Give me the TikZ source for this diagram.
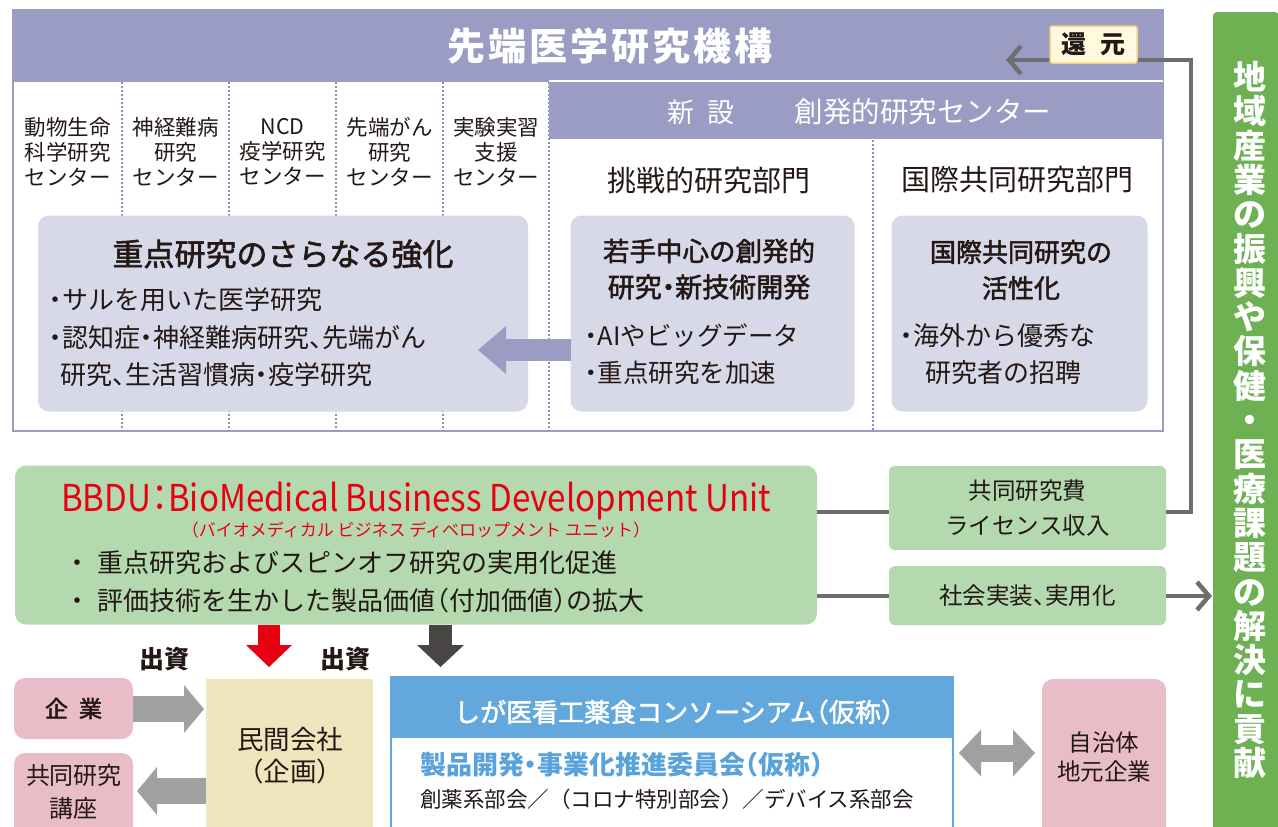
\documentclass[tikz,border=0pt]{standalone}
\usepackage{graphicx}
\usepackage{fontspec}
\setmainfont{Noto Sans CJK JP}
\newfontfamily\medfont{Noto Sans CJK JP}[FakeBold=2]
\usetikzlibrary{arrows.meta,calc}
\definecolor{lav}{HTML}{9A9CC4}
\definecolor{lavlight}{HTML}{D8D9E8}
\definecolor{dotc}{HTML}{8C8EBE}
\definecolor{gbox}{HTML}{B4D9AE}
\definecolor{gbar}{HTML}{6DB153}
\definecolor{conng}{HTML}{6E6E6E}
\definecolor{redc}{HTML}{E60012}
\definecolor{darkar}{HTML}{4A4545}
\definecolor{grayar}{HTML}{9FA09F}
\definecolor{pinkc}{HTML}{E8BDC8}
\definecolor{yelc}{HTML}{EEE6BC}
\definecolor{bluec}{HTML}{63A8DC}
\definecolor{bluetxt}{HTML}{5AA3DA}
\definecolor{txt}{HTML}{231815}
\definecolor{kanfill}{HTML}{FFF9DD}
\definecolor{kanbord}{HTML}{F2D38A}
\newcommand\fsz[2]{\fontsize{#1}{#2}\selectfont}
% narrow (proportional) punctuation
\newcommand\nd{\makebox[0.5em]{・}}
\newcommand\tn{\makebox[0.5em][l]{、}}
\newcommand\lpar{\makebox[0.5em][r]{（}}
\newcommand\rpar{\makebox[0.5em][l]{）}}
\begin{document}
\begin{tikzpicture}[x=1pt,y=-1pt,
  box/.style={rectangle,inner sep=0pt,outer sep=0pt},
  rbox/.style={box,rounded corners=11pt},
  sbox/.style={box,rounded corners=6pt},
  tx/.style={inner sep=0pt,outer sep=0pt,text=txt},
  dotl/.style={draw=dotc,line width=1.5pt,dash pattern=on 1.5pt off 2.5pt},
  conn/.style={draw=conng,line width=4.5pt},
  barb/.style={-{Straight Barb[length=12pt,width=28pt]}},
  lavarr/.style={draw=lav,line width=22pt,-{Triangle[length=28pt,width=48pt,line width=0pt]}},
  redarr/.style={draw=redc,line width=22pt,-{Triangle[length=22pt,width=46pt,line width=0pt]}},
  dkarr/.style={draw=darkar,line width=23pt,-{Triangle[length=22pt,width=47pt,line width=0pt]}},
  grayarr/.style={draw=grayar,line width=26pt,-{Triangle[length=20pt,width=48pt,line width=0pt]}},
  dblarr/.style={draw=grayar,line width=17pt,{Triangle[length=22pt,width=47pt,line width=0pt]}-{Triangle[length=22pt,width=47pt,line width=0pt]}}
]
\useasboundingbox (0,0) rectangle (1278,827);
\clip (0,0) rectangle (1278,827);

% ---------- organisation box ----------
\node[box,draw=lav,line width=2pt,minimum width=1150pt,minimum height=421pt] (org) at (588,220.5) {};
\node[box,fill=lav,minimum width=1150pt,minimum height=72pt] (hdr) at (588,46) {};
\foreach \x in {122,229,336,443,549} \draw[dotl] (\x,82) -- (\x,431);
\draw[dotl] (873,140) -- (873,431);
\node[box,fill=lav,minimum width=614pt,minimum height=58pt] (newband) at (856,110) {};
\draw[white,line width=1.5pt] (newband.north west) -- (newband.north east);

\node[tx,text=white,font=\bfseries\fsz{38}{38}\addfontfeature{LetterSpace=8}] (ttl) at (610,46) {先端医学研究機構};
\node[tx,text=white,font=\fsz{27}{27}] (shin) at (701,112) {新\hspace{14pt}設};
\node[tx,text=white,font=\fsz{28.5}{28.5}] (sohatsu) at (923,112) {創発的研究センター};
\node[tx,font=\fsz{29}{29}] (chosen) at (709,180) {挑戦的研究部門};
\node[tx,font=\fsz{29}{29}] (kokusaibu) at (1017,180) {国際共同研究部門};

\node[tx,align=center,font=\fsz{21.5}{25}] (c1) at (67.5,152) {動物生命\\科学研究\\センター};
\node[tx,align=center,font=\fsz{21.5}{25}] (c2) at (175.5,152) {神経難病\\研究\\センター};
\node[tx,align=center,font=\fsz{21.5}{25}] (c3) at (282.5,152) {NCD\\疫学研究\\センター};
\node[tx,align=center,font=\fsz{21.5}{25}] (c4) at (389.5,152) {先端がん\\研究\\センター};
\node[tx,align=center,font=\fsz{21.5}{25}] (c5) at (496,152) {実験実習\\支援\\センター};

% juten
\node[rbox,fill=lavlight,minimum width=490pt,minimum height=196pt] (juten) at (283,313.5) {};
\node[tx,font=\medfont\fsz{31}{31}] (jutitle) at (283,254) {重点研究のさらなる強化};
\node[tx,anchor=west,font=\fsz{26}{26}] (jb1) at (49,300) {\nd サルを用いた医学研究};
\node[tx,anchor=west,font=\fsz{26}{26}] (jb2) at (49,338) {\nd 認知症\nd 神経難病研究\tn 先端がん};
\node[tx,anchor=west,font=\fsz{26}{26}] (jb3) at (60,375) {研究\tn 生活習慣病\nd 疫学研究};

% wakate
\node[rbox,fill=lavlight,minimum width=284pt,minimum height=196pt] (wakate) at (712.5,313.5) {};
\node[tx,font=\medfont\fsz{26.5}{26.5}] (wt1) at (709,251) {若手中心の創発的};
\node[tx,font=\medfont\fsz{27}{27}] (wt2) at (709,287) {研究\nd 新技術開発};
\node[tx,anchor=west,font=\fsz{25.5}{25.5}] (wb1) at (585,336) {\nd AIやビッグデータ};
\node[tx,anchor=west,font=\fsz{25.5}{25.5}] (wb2) at (585,373) {\nd 重点研究を加速};

% kokusai
\node[rbox,fill=lavlight,minimum width=256pt,minimum height=196pt] (kokusai) at (1019.5,313.5) {};
\node[tx,font=\medfont\fsz{26}{26}] (kt1) at (1021,252) {国際共同研究の};
\node[tx,font=\medfont\fsz{26}{26}] (kt2) at (1021,288) {活性化};
\node[tx,anchor=west,font=\fsz{26}{26}] (kb1) at (900,336) {\nd 海外から優秀な};
\node[tx,anchor=west,font=\fsz{26}{26}] (kb2) at (925,373) {研究者の招聘};

\coordinate (lavtip) at (478,350);
\draw[lavarr] (wakate.west |- lavtip) -- (lavtip);

% ---------- green bar ----------
\node[box,fill=gbar,rounded corners=4pt,minimum width=66pt,minimum height=830pt,anchor=north west] (gbar) at (1213,12) {};
\node[tx,text=white,align=center,font=\bfseries\fsz{33}{34.3}] (gbart) at (1250,420) {地\\域\\産\\業\\の\\振\\興\\や\\保\\健\\・\\医\\療\\課\\題\\の\\解\\決\\に\\貢\\献};

% ---------- BBDU ----------
\node[rbox,fill=gbox,minimum width=802pt,minimum height=159pt] (bbdu) at (416,545) {};
\node[tx,text=redc,font=\fsz{37}{37}] (bbdut) at (416,501) {\scalebox{0.895}[1]{BBDU\kern-9pt：\kern-9pt BioMedical Business Development Unit}};
\node[tx,text=redc,font=\fsz{17}{17}] (bbdus) at (416,530) {（バイオメディカル ビジネス ディベロップメント ユニット）};
\node[tx,anchor=west,font=\fsz{26}{26}] (bb1) at (64,563) {・\hspace{8pt}重点研究およびスピンオフ研究の実用化促進};
\node[tx,anchor=west,font=\fsz{26}{26}] (bb2) at (64,601) {・\hspace{8pt}評価技術を生かした製品価値\lpar 付加価値\rpar の拡大};

\node[sbox,fill=gbox,minimum width=277pt,minimum height=84pt] (kyodo) at (1027.5,508) {};
\node[tx,align=center,font=\fsz{23.5}{35}] (kyodot) at (1027.5,508) {共同研究費\\ライセンス収入};
\node[sbox,fill=gbox,minimum width=277pt,minimum height=59pt] (shakai) at (1027.5,595.5) {};
\node[tx,font=\fsz{23.5}{23.5}] (shakait) at (1027.5,596) {社会実装\tn 実用化};

\coordinate (ln1) at (0,512);
\coordinate (ln2) at (0,596);
\coordinate (turn) at (1191,60);
\coordinate (rettip) at (1006,60);
\draw[conn] (bbdu.east |- ln1) -- (kyodo.west |- ln1);
\draw[conn,barb] (kyodo.east |- ln1) -| (turn) -- (rettip);
\draw[conn] (bbdu.east |- ln2) -- (shakai.west |- ln2);
\draw[conn,barb,shorten >=1pt] (shakai.east |- ln2) -- (gbar.west |- ln2);

\node[box,fill=kanfill,draw=kanbord,line width=1.5pt,rounded corners=2pt,minimum width=87pt,minimum height=37pt,font=\bfseries\fsz{25}{25},text=txt] (kangen) at (1093.5,44.5) {還\hspace{14pt}元};

% ---------- lower part ----------
\coordinate (redtip) at (269,667);
\coordinate (dktip) at (440.5,667);
\draw[redarr] (bbdu.south -| redtip) -- (redtip);
\draw[dkarr] (bbdu.south -| dktip) -- (dktip);
\node[tx,font=\bfseries\fsz{25}{25}] (shushi1) at (164.5,659) {出資};
\node[tx,font=\bfseries\fsz{25}{25}] (shushi2) at (345.5,659) {出資};

\node[rbox,fill=pinkc,minimum width=119pt,minimum height=61pt,font=\medfont\fsz{23}{23},text=txt] (kigyo) at (73.5,708.5) {企\hspace{11pt}業};
\node[rbox,fill=pinkc,minimum width=119pt,minimum height=100pt] (kyoken) at (73.5,803) {};
\node[tx,align=center,font=\fsz{24}{33}] (kyokent) at (74,791.5) {共同研究\\講座};

\node[box,fill=yelc,minimum width=167pt,minimum height=160pt] (minkan) at (289.5,759) {};
\node[tx,align=center,font=\fsz{26.5}{32}] (minkant) at (290,756) {民間会社\\\lpar 企画\rpar};

\coordinate (g1y) at (0,709);
\coordinate (g2y) at (0,791);
\draw[grayarr,shorten >=2pt] (kigyo.east |- g1y) -- (minkan.west |- g1y);
\draw[grayarr,shorten >=4pt] (minkan.west |- g2y) -- (kyoken.east |- g2y);

\node[box,draw=bluec,line width=2pt,fill=white,minimum width=562pt,minimum height=170pt] (cons) at (671.5,762) {};
\node[box,fill=bluec,minimum width=562pt,minimum height=61pt] (conshdr) at (671.5,707.5) {};
\node[tx,text=white,font=\medfont\fsz{26}{26}] (const) at (674,712) {しが医看工薬食コンソーシアム\lpar 仮称\rpar};
\node[tx,anchor=west,text=bluetxt,font=\bfseries\fsz{26}{26}] (iinkai) at (420,765) {製品開発\nd 事業化推進委員会\lpar 仮称\rpar};
\node[tx,anchor=west,font=\fsz{21.5}{21.5}] (bukai) at (420,799) {創薬系部会／（コロナ特別部会）／デバイス系部会};

\node[rbox,fill=pinkc,minimum width=124pt,minimum height=160pt] (jichi) at (1104,759) {};
\node[tx,align=center,font=\fsz{23.5}{29}] (jichit) at (1104,757.5) {自治体\\地元企業};

\coordinate (dy) at (0,753);
\draw[dblarr,shorten <=6.5pt,shorten >=7pt] (cons.east |- dy) -- (jichi.west |- dy);
\end{tikzpicture}
\end{document}
